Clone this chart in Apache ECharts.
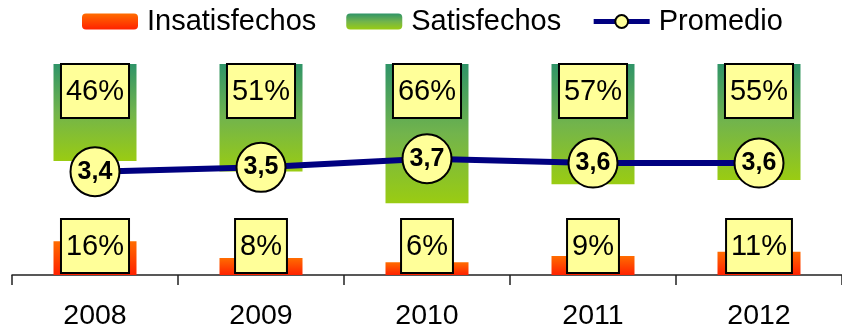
<!DOCTYPE html>
<html>
<head>
<meta charset="utf-8">
<script src="https://cdn.jsdelivr.net/npm/echarts@6/dist/echarts.min.js"></script>
<style>
  html, body { margin: 0; padding: 0; background: #fff; }
  #chart { width: 842px; height: 333px; }
</style>
</head>
<body>
<div id="chart"></div>
<script>
// Survey results per year
const years = ['2008', '2009', '2010', '2011', '2012'];
const insatisfechos = [16, 8, 6, 9, 11];   // % dissatisfied
const satisfechos = [46, 51, 66, 57, 55];  // % satisfied
const promedio = [3.4, 3.5, 3.7, 3.6, 3.6]; // average score

const FONT = 'Liberation Sans, Arial, sans-serif';

const orangeFill = new echarts.graphic.LinearGradient(0, 0, 0, 1, [
  { offset: 0, color: '#ff6c00' },
  { offset: 1, color: '#ff2200' }
]);
const greenFill = new echarts.graphic.LinearGradient(0, 0, 0, 1, [
  { offset: 0, color: '#2f9468' },
  { offset: 0.5, color: '#72b44c' },
  { offset: 1, color: '#9acc12' }
]);

const boxLabel = {
  show: true,
  formatter: '{c}%',
  fontFamily: FONT,
  fontSize: 29,
  color: '#000',
  backgroundColor: '#ffff99',
  borderColor: '#000',
  borderWidth: 2,
  padding: [12, 4, 11, 4],
  lineHeight: 29
};

const chart = echarts.init(document.getElementById('chart'), null, { renderer: 'canvas' });
chart.setOption({
  animation: false,
  backgroundColor: '#fff',
  legend: {
    left: 77,
    top: 2,
    itemWidth: 56,
    itemHeight: 16,
    itemGap: 30,
    textStyle: { fontFamily: FONT, fontSize: 29, color: '#000', padding: [0, 0, 0, 4] },
    data: [
      { name: 'Insatisfechos', itemStyle: { color: orangeFill } },
      { name: 'Satisfechos', itemStyle: { color: greenFill } },
      { name: 'Promedio', lineStyle: { color: '#000080', width: 5 } }
    ]
  },
  grid: { left: 12, width: 833, top: 64, bottom: 58, containLabel: false },
  xAxis: {
    type: 'category',
    data: years,
    boundaryGap: true,
    axisLine: { lineStyle: { color: '#222', width: 1.5 } },
    axisTick: { show: true, length: 10, lineStyle: { color: '#222', width: 1.5 } },
    axisLabel: { fontFamily: FONT, fontSize: 28.5, color: '#000', margin: 27 }
  },
  yAxis: [
    { type: 'value', min: 0, max: 100, show: false, splitLine: { show: false } },
    { type: 'value', min: 0, max: 100, inverse: true, show: false, splitLine: { show: false } },
    { type: 'value', min: 1, max: 5.9, show: false, splitLine: { show: false } }
  ],
  series: [
    {
      name: 'Insatisfechos',
      type: 'bar',
      yAxisIndex: 0,
      data: insatisfechos,
      barWidth: 83,
      barGap: '-100%',
      itemStyle: { color: orangeFill },
      label: Object.assign({}, boxLabel, { position: 'insideBottom', distance: 3 }),
      z: 2
    },
    {
      name: 'Satisfechos',
      type: 'bar',
      yAxisIndex: 1,
      data: satisfechos,
      barWidth: 83,
      barGap: '-100%',
      itemStyle: { color: greenFill },
      label: Object.assign({}, boxLabel, { position: 'insideTop', distance: 1 }),
      z: 2
    },
    {
      name: 'Promedio',
      type: 'line',
      yAxisIndex: 2,
      data: promedio,
      symbol: 'circle',
      symbolSize: 49,
      lineStyle: { color: '#000080', width: 6 },
      itemStyle: { color: '#ffff99', borderColor: '#000', borderWidth: 2 },
      label: {
        show: true,
        position: 'inside',
        formatter: p => String(p.value).replace('.', ','),
        fontFamily: FONT,
        fontSize: 25,
        fontWeight: 'bold',
        color: '#000'
      },
      z: 5
    }
  ]
});
</script>
</body>
</html>
